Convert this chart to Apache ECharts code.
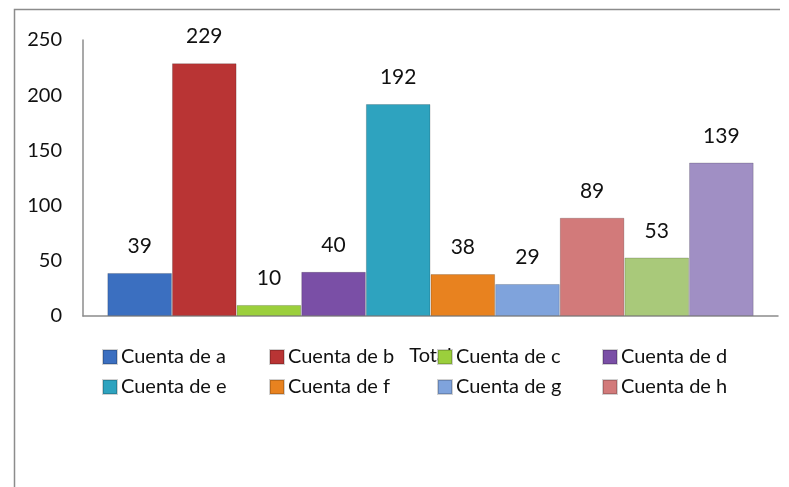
<!DOCTYPE html>
<html>
<head>
<meta charset="utf-8">
<script src="https://cdn.jsdelivr.net/npm/echarts@6/dist/echarts.min.js"></script>
<style>
  html, body { margin: 0; padding: 0; background: #fff; }
  #chart { width: 789px; height: 487px; }
</style>
</head>
<body>
<div id="chart"></div>
<script>
// data
const categories = ['Total'];
const seriesNames = ['Cuenta de a', 'Cuenta de b', 'Cuenta de c', 'Cuenta de d', 'Cuenta de e',
  'Cuenta de f', 'Cuenta de g', 'Cuenta de h', 'Cuenta de i', 'Cuenta de j'];
const values = [39, 229, 10, 40, 192, 38, 29, 89, 53, 139];
const colors = ['#3b6fc0', '#b93434', '#9bcf3c', '#7a4fa6', '#2ea3bf',
  '#e8821f', '#7fa3dc', '#d27a7a', '#a9c97a', '#a08fc4'];
// legend shows a..h in two rows of four (i and j are cut off in the original)
const legendCols = [
  ['Cuenta de a', 'Cuenta de e'],
  ['Cuenta de b', 'Cuenta de f'],
  ['Cuenta de c', 'Cuenta de g'],
  ['Cuenta de d', 'Cuenta de h']
];
const legendLefts = [102, 269, 437, 602];

const font = "Lato, 'Open Sans', sans-serif";

const chart = echarts.init(document.getElementById('chart'));

// one bar series per "Cuenta"
const series = seriesNames.map(function (name, i) {
  return {
    name: name,
    type: 'bar',
    barGap: '0%',
    barCategoryGap: '7%',
    data: [values[i]],
    itemStyle: {
      color: colors[i],
      borderColor: 'rgba(0,0,0,0.18)',
      borderWidth: 1
    },
    label: {
      show: true,
      position: 'top',
      distance: 16,
      fontSize: 21,
      fontFamily: font,
      color: '#111'
    }
  };
});

const legends = legendCols.map(function (names, i) {
  return {
    data: names,
    left: legendLefts[i],
    top: 347,
    padding: 0,
    orient: 'vertical',
    icon: 'rect',
    itemWidth: 14,
    itemHeight: 14,
    itemGap: 10,
    textStyle: { fontSize: 20, fontFamily: font, color: '#111', padding: [0, 0, 0, -1] }
  };
});

const option = {
  animation: false,
  color: colors,
  graphic: [{
    type: 'polyline',
    shape: { points: [[780, 9.5], [14.5, 9.5], [14.5, 487]] },
    style: { stroke: '#8c8c8c', lineWidth: 1.5, fill: null }
  }],
  grid: { left: 83, right: 11, top: 40, bottom: 171 },
  legend: legends,
  xAxis: {
    type: 'category',
    data: categories,
    axisLine: { lineStyle: { color: '#8c8c8c', width: 1.5 } },
    axisTick: { show: false },
    axisLabel: { fontSize: 20, fontFamily: font, color: '#111', margin: 30 }
  },
  yAxis: {
    type: 'value',
    min: 0,
    max: 250,
    interval: 50,
    splitLine: { show: false },
    axisLine: { show: true, lineStyle: { color: '#8c8c8c', width: 1.5 } },
    axisTick: { show: false },
    axisLabel: { fontSize: 20, fontFamily: font, color: '#111', margin: 21 }
  },
  series: series
};

chart.setOption(option);
</script>
</body>
</html>
